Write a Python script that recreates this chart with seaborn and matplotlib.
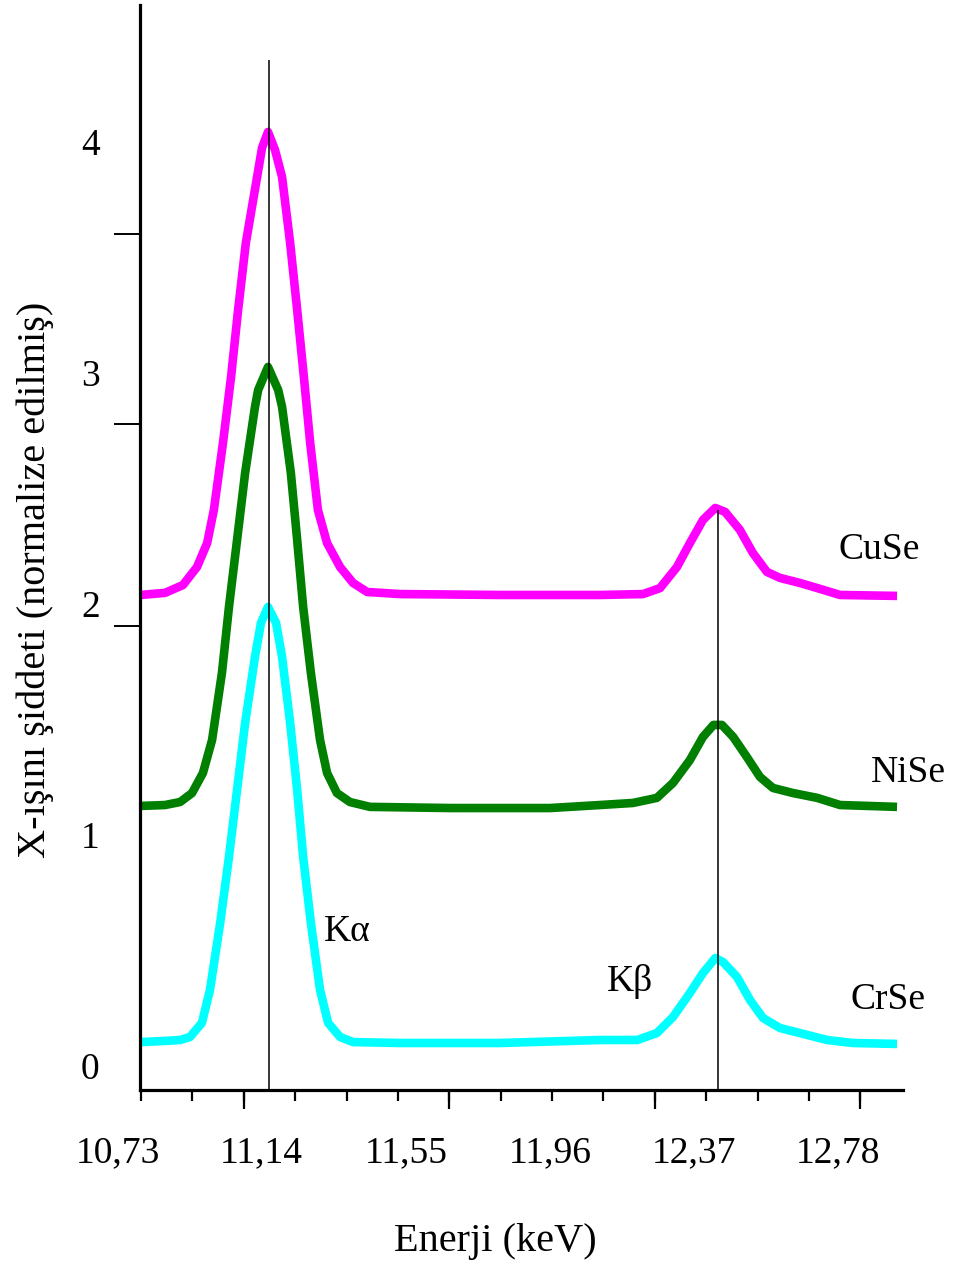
import numpy as np
import pandas as pd
import matplotlib
matplotlib.use("Agg")
import matplotlib.pyplot as plt
import seaborn as sns

# ---------------- data ----------------
series_names = ["CuSe", "NiSe", "CrSe"]
series_colors = {"CuSe": "#ff00ff", "NiSe": "#007f00", "CrSe": "#00ffff"}

cuse_energy = [10.794, 10.865, 10.916, 10.956, 10.985, 11.004, 11.030, 11.053, 11.073, 11.095,
               11.127, 11.141, 11.158, 11.178, 11.198, 11.221, 11.241, 11.260, 11.278, 11.300,
               11.326, 11.363, 11.400, 11.440, 11.534, 11.818, 12.102, 12.225, 12.273, 12.321,
               12.358, 12.395, 12.430, 12.458, 12.500, 12.537, 12.577, 12.614, 12.671, 12.720,
               12.785, 12.947]
cuse_intensity = [2.038, 2.047, 2.081, 2.159, 2.263, 2.406, 2.697, 2.983, 3.273, 3.563,
                  3.849, 3.975, 4.044, 3.966, 3.849, 3.563, 3.273, 2.983, 2.697, 2.406,
                  2.263, 2.159, 2.090, 2.051, 2.042, 2.038, 2.038, 2.042, 2.068, 2.159,
                  2.263, 2.363, 2.415, 2.398, 2.320, 2.220, 2.138, 2.112, 2.090, 2.068,
                  2.038, 2.034]

nise_energy = [10.794, 10.865, 10.908, 10.942, 10.973, 10.999, 11.027, 11.047, 11.070, 11.093,
               11.121, 11.130, 11.158, 11.187, 11.198, 11.223, 11.241, 11.258, 11.280, 11.306,
               11.326, 11.354, 11.391, 11.448, 11.676, 11.960, 12.102, 12.196, 12.264, 12.310,
               12.358, 12.395, 12.425, 12.449, 12.481, 12.520, 12.557, 12.594, 12.651, 12.720,
               12.785, 12.947]
nise_intensity = [1.124, 1.128, 1.141, 1.180, 1.267, 1.410, 1.700, 1.986, 2.276, 2.567,
                  2.853, 2.926, 3.026, 2.926, 2.853, 2.567, 2.276, 1.986, 1.700, 1.410,
                  1.267, 1.180, 1.141, 1.120, 1.115, 1.115, 1.128, 1.137, 1.159, 1.224,
                  1.323, 1.423, 1.475, 1.475, 1.423, 1.336, 1.250, 1.202, 1.180, 1.159,
                  1.128, 1.120]

crse_energy = [10.794, 10.865, 10.908, 10.936, 10.970, 10.993, 11.022, 11.047, 11.070, 11.093,
               11.121, 11.138, 11.158, 11.181, 11.198, 11.221, 11.241, 11.258, 11.280, 11.306,
               11.329, 11.363, 11.400, 11.534, 11.818, 12.102, 12.208, 12.264, 12.310, 12.358,
               12.395, 12.430, 12.452, 12.492, 12.529, 12.566, 12.614, 12.671, 12.748, 12.822,
               12.947]
crse_intensity = [0.101, 0.106, 0.110, 0.123, 0.184, 0.327, 0.617, 0.903, 1.193, 1.484,
                  1.770, 1.917, 1.986, 1.917, 1.770, 1.484, 1.193, 0.903, 0.617, 0.327,
                  0.184, 0.123, 0.101, 0.097, 0.097, 0.110, 0.110, 0.140, 0.210, 0.314,
                  0.400, 0.465, 0.448, 0.383, 0.283, 0.205, 0.162, 0.140, 0.110, 0.097,
                  0.093]

x_tick_values = [10.73, 11.14, 11.55, 11.96, 12.37, 12.78]
x_tick_labels = ["10,73", "11,14", "11,55", "11,96", "12,37", "12,78"]
y_tick_values = [0, 1, 2, 3, 4]
y_tick_labels = ["0", "1", "2", "3", "4"]

k_alpha_energy = 11.161
k_beta_energy = 12.438

# ---------------- build long-form table ----------------
frames = []
for name, e, i in [("CuSe", cuse_energy, cuse_intensity),
                   ("NiSe", nise_energy, nise_intensity),
                   ("CrSe", crse_energy, crse_intensity)]:
    frames.append(pd.DataFrame({"energy": e, "intensity": i, "sample": name}))
df = pd.concat(frames, ignore_index=True)

# ---------------- figure ----------------
sns.set_theme(style="white")
plt.rcParams["font.family"] = ["Liberation Serif", "DejaVu Serif"]

X0, X1 = 10.73, 12.964      # view range (the axis line itself starts at AXIS_START)
AXIS_START = 10.794
Y0, Y1 = -0.1066, 4.594

fig = plt.figure(figsize=(9.6, 12.72), dpi=100)
ax = fig.add_axes([0.12240, 0.14308, 0.81823, 0.85299])

sns.lineplot(data=df, x="energy", y="intensity", hue="sample", hue_order=series_names,
             palette=series_colors, estimator=None, sort=False, legend=False,
             linewidth=6.2, ax=ax, solid_joinstyle="round", solid_capstyle="butt")

# reference lines at the Kα and Kβ peaks
ax.vlines([k_alpha_energy], Y0, 4.356, color="black", linewidth=1.1, zorder=5)
ax.vlines([k_beta_energy], Y0, 2.407, color="black", linewidth=1.1, zorder=5)

# spines
for s in ["top", "right"]:
    ax.spines[s].set_visible(False)
for s in ["left", "bottom"]:
    ax.spines[s].set_color("black")
    ax.spines[s].set_linewidth(2.3)
ax.spines["left"].set_position(("data", AXIS_START))
ax.spines["bottom"].set_bounds(AXIS_START, X1)

# x ticks: labels (no marks) + short and long marks
ax.set_xticks(x_tick_values)
ax.set_xticklabels(x_tick_labels)
ax.tick_params(axis="x", which="major", length=0, pad=33, labelsize=27, colors="black")
ax.set_xticks(10.797 + 0.1461 * np.arange(15), minor=True)
ax.tick_params(axis="x", which="minor", bottom=True, length=8, width=1.6, direction="out",
               color="black")

# y ticks: labels (no marks) + three marks
ax.set_yticks(y_tick_values)
ax.set_yticklabels(y_tick_labels)
ax.tick_params(axis="y", which="major", length=0, pad=29, labelsize=27, colors="black")
ax.set_yticks([1.904, 2.779, 3.602], minor=True)
ax.tick_params(axis="y", which="minor", left=True, length=19, width=1.4, direction="out",
               color="black")

ax.set_xlim(X0, X1)
ax.set_ylim(Y0, Y1)

sec = ax.secondary_xaxis("bottom")
sec.set_xticks(10.797 + 0.1461 * np.arange(2, 15, 4))
sec.set_xticklabels([])
sec.tick_params(axis="x", length=14, width=1.6, direction="out", color="black")
sec.spines["bottom"].set_visible(False)

# axis labels
ax.set_xlabel("Enerji (keV)", fontsize=29, color="black")
ax.xaxis.set_label_coords(0.4806, -0.140)
ax.xaxis.label.set_va("center")
ax.set_ylabel("X-ışını şiddeti (normalize edilmiş)", fontsize=29, color="black")
ax.yaxis.set_label_coords(-0.1050, 0.470)
ax.yaxis.label.set_va("center")

# annotations
txt = dict(fontsize=27, color="black", ha="center", va="center", clip_on=False)
ax.text(12.896, 2.233, "CuSe", **txt)
ax.text(12.978, 1.267, "NiSe", **txt)
ax.text(12.921, 0.284, "CrSe", **txt)
ax.text(11.383, 0.578, "Kα", **txt)
ax.text(12.188, 0.362, "Kβ", **txt)

ax.set_xlim(X0, X1)
ax.set_ylim(Y0, Y1)

fig.savefig("out.png", dpi=100, facecolor="white")
